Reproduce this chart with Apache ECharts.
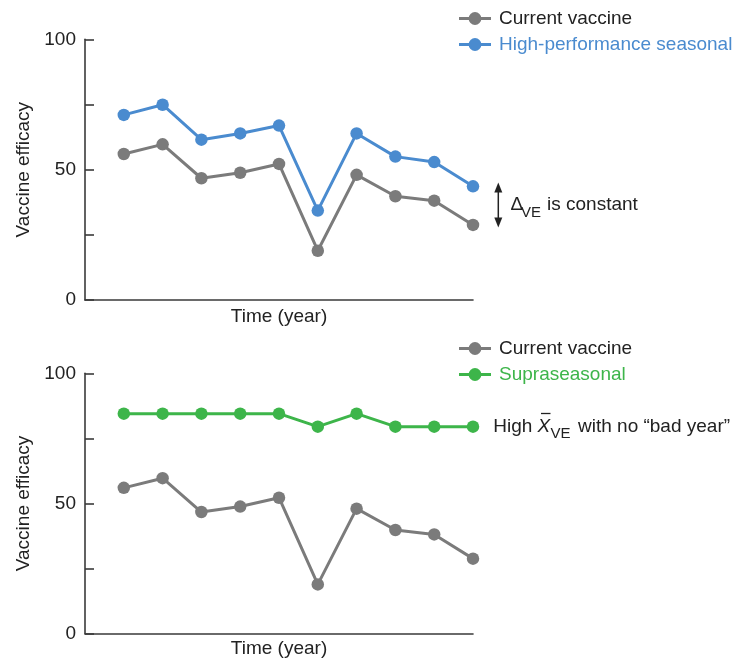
<!DOCTYPE html>
<html>
<head>
<meta charset="utf-8">
<script src="https://cdn.jsdelivr.net/npm/echarts@6/dist/echarts.min.js"></script>
<style>html,body{margin:0;padding:0;background:#fff;}#c{width:743px;height:663px;}</style>
</head>
<body>
<div id="c"></div>
<script>
// ---- data ----
var years = [1, 2, 3, 4, 5, 6, 7, 8, 9, 10];
var currentVaccine = [56, 59.7, 46.7, 48.8, 52.2, 18.9, 48, 39.8, 38.1, 28.8];
var highPerformance = [71, 74.9, 61.5, 63.9, 66.9, 34.3, 63.9, 55, 52.9, 43.6];
var supraseasonal = [84.5, 84.5, 84.5, 84.5, 84.5, 79.5, 84.5, 79.5, 79.5, 79.5];
var yTicks = [0, 50, 100];
var legendTop = ['Current vaccine', 'High-performance seasonal'];
var legendBottom = ['Current vaccine', 'Supraseasonal'];

var GRAY = '#7b7b7b', BLUE = '#4a8bcf', GREEN = '#3db54a', INK = '#222222', AX = '#3a3a3a';
var FONT = "'Liberation Sans', Arial, Helvetica, sans-serif";
var FS = 19;

function pairs(vals) { return years.map(function (x, i) { return [x, vals[i]]; }); }

function xAxis(idx) {
  return {
    gridIndex: idx, type: 'value', min: 0, max: 10,
    name: 'Time (year)', nameLocation: 'middle', nameGap: idx === 0 ? 7 : 6,
    nameTextStyle: { color: INK, fontSize: FS, fontFamily: FONT },
    axisLine: { show: true, lineStyle: { color: AX, width: 1.6 } },
    axisTick: { show: false }, axisLabel: { show: false }, splitLine: { show: false }
  };
}
function yAxis(idx) {
  return {
    gridIndex: idx, type: 'value', min: 0, max: 100, interval: 25,
    name: 'Vaccine efficacy', nameLocation: 'middle', nameGap: 52, nameRotate: 90,
    nameTextStyle: { color: INK, fontSize: FS, fontFamily: FONT },
    axisLine: { show: true, lineStyle: { color: AX, width: 1.6 } },
    axisTick: { show: true, inside: true, length: 9, lineStyle: { color: AX, width: 1.6 } },
    axisLabel: {
      margin: 9, color: INK, fontSize: FS, fontFamily: FONT,
      formatter: function (v) { return yTicks.indexOf(v) >= 0 ? String(v) : ''; }
    },
    splitLine: { show: false }
  };
}
function line(name, vals, color, gi) {
  return {
    name: name, type: 'line', xAxisIndex: gi, yAxisIndex: gi, data: pairs(vals),
    symbol: 'circle', symbolSize: 12.5, showSymbol: true, silent: true,
    lineStyle: { color: color, width: 3 }, itemStyle: { color: color },
    emphasis: { disabled: true }, animation: false
  };
}
function legend(top, items, colors) {
  return {
    orient: 'vertical', left: 457.5, top: top, padding: 0,
    itemWidth: 32, itemHeight: 16, itemGap: 6,
    selectedMode: false,
    lineStyle: { width: 3 },
    textStyle: { fontSize: FS, fontFamily: FONT, lineHeight: 20, padding: [0, 0, 0, 3] },
    data: items.map(function (n, i) { return { name: n, textStyle: { color: colors[i] } }; })
  };
}

var chart = echarts.init(document.getElementById('c'), null, { renderer: 'canvas' });
chart.setOption({
  animation: false,
  backgroundColor: '#fff',
  grid: [
    { left: 85, top: 39.3, width: 388, height: 260.7 },
    { left: 85, top: 373.3, width: 388, height: 260.3 }
  ],
  xAxis: [xAxis(0), xAxis(1)],
  yAxis: [yAxis(0), yAxis(1)],
  legend: [
    legend(8.5, legendTop, [INK, BLUE]),
    legend(338.5, legendBottom, [INK, GREEN])
  ],
  series: [
    line('Current vaccine', currentVaccine, GRAY, 0),
    line('High-performance seasonal', highPerformance, BLUE, 0),
    line('Current vaccine', currentVaccine, GRAY, 1),
    line('Supraseasonal', supraseasonal, GREEN, 1)
  ],
  graphic: [
    // double arrow
    { type: 'line', shape: { x1: 498.3, y1: 190, x2: 498.3, y2: 220 }, style: { stroke: INK, lineWidth: 1.5 } },
    { type: 'polygon', shape: { points: [[498.3, 182.5], [494.3, 192.5], [502.3, 192.5]] }, style: { fill: INK } },
    { type: 'polygon', shape: { points: [[498.3, 227.5], [494.3, 217.5], [502.3, 217.5]] }, style: { fill: INK } },
    { type: 'text', x: 510.5, y: 205, style: { text: 'Δ', fill: INK, fontSize: FS, fontFamily: FONT, verticalAlign: 'middle' } },
    { type: 'text', x: 521, y: 213, style: { text: 'VE', fill: INK, fontSize: 15, fontFamily: FONT, verticalAlign: 'middle' } },
    { type: 'text', x: 547, y: 205, style: { text: 'is constant', fill: INK, fontSize: FS, fontFamily: FONT, verticalAlign: 'middle' } },
    // bottom annotation
    { type: 'text', x: 493.3, y: 427, style: { text: 'High', fill: INK, fontSize: FS, fontFamily: FONT, verticalAlign: 'middle' } },
    { type: 'text', x: 537.5, y: 427, style: { text: 'X', fill: INK, fontSize: FS, fontStyle: 'italic', fontFamily: FONT, verticalAlign: 'middle' } },
    { type: 'line', shape: { x1: 541, y1: 413.5, x2: 550.5, y2: 413.5 }, style: { stroke: INK, lineWidth: 1.3 } },
    { type: 'text', x: 550.5, y: 434, style: { text: 'VE', fill: INK, fontSize: 15, fontFamily: FONT, verticalAlign: 'middle' } },
    { type: 'text', x: 578, y: 427, style: { text: 'with no \u201cbad year\u201d', fill: INK, fontSize: FS, fontFamily: FONT, verticalAlign: 'middle' } }
  ]
});
</script>
</body>
</html>
